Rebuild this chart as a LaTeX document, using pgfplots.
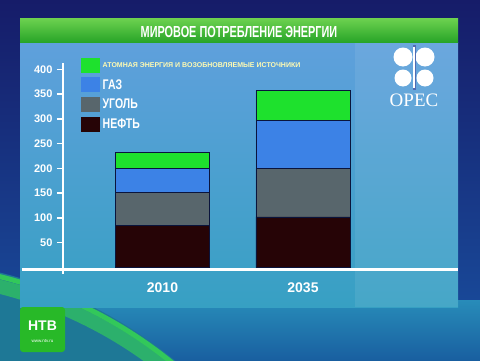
\documentclass[border=0pt]{standalone}
\usepackage{pgfplots}
\pgfplotsset{compat=1.18}
\usepackage{fontspec}
\setmainfont{Liberation Sans}
\newfontfamily\cond[FakeStretch=0.75]{Liberation Sans}
\newfontfamily\condtitle[FakeStretch=0.68]{Liberation Sans}
\newfontfamily\opecfont{Liberation Serif}
\definecolor{cGreen}{RGB}{30,225,45}
\definecolor{cBlue}{RGB}{60,130,230}
\definecolor{cGray}{RGB}{88,102,108}
\definecolor{cOil}{RGB}{38,4,6}
\definecolor{cEdge}{RGB}{10,20,60}
\definecolor{bgTop}{RGB}{22,28,105}
\definecolor{bgBot}{RGB}{25,80,160}
\definecolor{pTop}{RGB}{95,160,220}
\definecolor{pMid}{RGB}{78,95,170}
\definecolor{pBot}{RGB}{55,160,195}
\definecolor{tTop}{RGB}{110,210,80}
\definecolor{tBot}{RGB}{40,165,40}
\definecolor{ntvGreen}{RGB}{40,185,40}
\definecolor{bandTop}{RGB}{40,140,185}
\definecolor{bandBot}{RGB}{25,95,160}
\definecolor{globeIn}{RGB}{30,120,150}
\definecolor{globeRim}{RGB}{50,200,90}

\pgfplotstableread{
x oil coal gas ren
0 84 67 49 32
1 102 98 96 61
}\energy

\begin{document}
\begin{tikzpicture}[x=1pt,y=1pt]
\useasboundingbox (0,0) rectangle (480,360);
% background
\shade[top color=bgTop, bottom color=bgBot] (0,0) rectangle (480,360);
\shade[top color=bandTop, bottom color=bandBot] (0,0) rectangle (480,60);
% globe
\begin{scope}
\clip (0,0) rectangle (480,360);
\fill[globeIn] (-105,-340) circle (440);
\draw[globeRim!70!globeIn, line width=14pt] (-105,-347) circle (433);
\draw[globeRim, line width=5pt] (-105,-342) circle (438);
\end{scope}
% panel
\shade[top color=pTop, middle color=pMid, bottom color=pBot] (20,53) rectangle (458,318);
\fill[white, opacity=0.08] (355,53) rectangle (458,318);
% title bar
\shade[top color=tTop, bottom color=tBot] (20,318) rectangle (458,342);
\node[text=white, font=\condtitle\bfseries\fontsize{16}{16}\selectfont] at (239,328.5) {МИРОВОЕ ПОТРЕБЛЕНИЕ ЭНЕРГИИ};
% OPEC logo
\fill[white] (403,303) circle (9.5);
\fill[white] (425,303) circle (9.5);
\fill[white] (403,282) circle (8.5);
\fill[white] (425,282) circle (8.5);
\fill[pMid!80!pTop] (412.5,270) rectangle (415.5,315);
\fill[white] (413.3,272) rectangle (414.7,313);
\node[text=white, font=\opecfont\fontsize{19}{19}\selectfont, anchor=base] at (414,254) {OPEC};
% NTV logo
\fill[rounded corners=3pt, ntvGreen] (20,8) rectangle (65,53);
\node[text=white, font=\bfseries\fontsize{14}{14}\selectfont] at (42.5,34) {НТВ};
\node[text=white, font=\fontsize{4.5}{4.5}\selectfont] at (42.5,19) {www.ntv.ru};

\begin{axis}[
  at={(63pt,92.5pt)}, anchor=south west,
  scale only axis, width=317pt, height=204.5pt,
  xmin=-0.708, xmax=1.548, ymin=0, ymax=412.7,
  ybar stacked, bar width=0.669,
  axis line style={draw=none},
  axis x line=bottom, axis y line=left,
  clip=false,
  xtick={0,1}, xticklabels={2010,2035},
  major x tick style={draw=none},
  ytick={50,100,...,400},
  major y tick style={white, line width=1.5pt},
  tick align=outside, major tick length=6pt,
  /pgf/number format/assume math mode=true,
  tick label style={text=white, font=\bfseries\fontsize{11}{11}\selectfont},
  xticklabel style={font=\bfseries\fontsize{14}{14}\selectfont, yshift=-6pt},
  yticklabel style={xshift=-1pt},
  legend style={at={(0.0568,1.024)}, anchor=north west, draw=none, fill=none,
    inner sep=0pt, row sep=3.5pt, text=white,
    nodes={inner sep=2.5pt, anchor=west}},
  legend cell align=left,
  reverse legend,
  legend image code/.code={\draw[#1, draw=none] (0pt,-7.5pt) rectangle (19pt,7.5pt);},
  every axis plot/.append style={draw=cEdge, line width=0.9pt},
]
\addplot[fill=cOil] table[x=x, y=oil] {\energy};
\addlegendentry{\cond\bfseries\fontsize{14}{14}\selectfont НЕФТЬ}
\addplot[fill=cGray] table[x=x, y=coal] {\energy};
\addlegendentry{\cond\bfseries\fontsize{14}{14}\selectfont УГОЛЬ}
\addplot[fill=cBlue] table[x=x, y=gas] {\energy};
\addlegendentry{\cond\bfseries\fontsize{14}{14}\selectfont ГАЗ}
\addplot[fill=cGreen] table[x=x, y=ren] {\energy};
\addlegendentry{\textcolor{yellow!30!white}{\bfseries\fontsize{7}{7}\selectfont АТОМНАЯ ЭНЕРГИЯ И ВОЗОБНОВЛЯЕМЫЕ ИСТОЧНИКИ}}
\draw[white, line width=2.5pt] (axis cs:-1.0,-4) -- (axis cs:2.103,-4);
\draw[white, line width=2.5pt] (axis cs:-0.708,-13) -- (axis cs:-0.708,412.7);
\end{axis}
\end{tikzpicture}
\end{document}
